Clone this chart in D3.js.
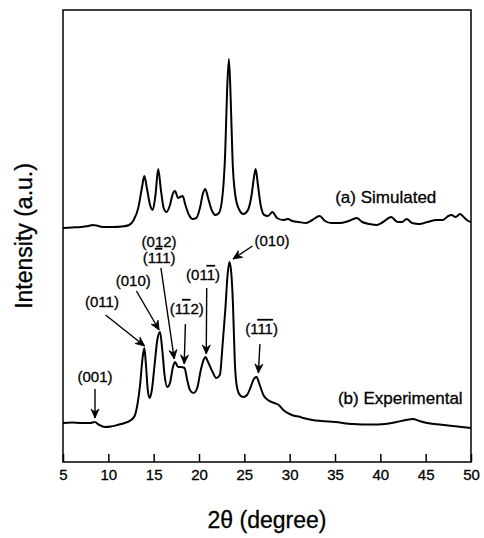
<!DOCTYPE html>
<html>
<head>
<meta charset="utf-8">
<script src="https://cdn.jsdelivr.net/npm/d3@7"></script>
<style>
  html, body { margin: 0; padding: 0; background: #fff; }
  svg { display: block; }
  text { font-family: "Liberation Sans", Arial, sans-serif; fill: #000; stroke: #000; stroke-width: 0.3px; }
</style>
</head>
<body>
<svg id="chart" width="484" height="538"></svg>
<script>
// ---- data (2θ in degrees, intensity in arbitrary units) ----
const simTheta = [5.0,6.0,7.0,7.8,8.3,8.9,9.5,10.5,11.5,12.3,12.8,13.3,13.7,13.97,14.25,14.6,14.9,15.2,15.5,15.8,16.1,16.4,16.8,17.1,17.35,17.7,17.9,18.2,18.5,18.9,19.3,19.7,20.1,20.45,20.7,21.0,21.4,21.8,22.2,22.6,22.9,23.1,23.3,23.5,23.7,24.0,24.4,24.9,25.4,25.8,26.05,26.25,26.5,26.8,27.2,27.6,28.1,28.6,29.3,29.8,30.3,31.0,31.8,32.5,33.3,33.9,34.6,35.5,36.5,37.4,38.0,38.8,39.6,40.3,41.2,41.9,42.4,42.9,43.5,44.3,45.2,46.2,46.9,47.5,47.85,48.3,48.8,49.3,49.7,50.0];
const simIntensity = [234,234.5,235,236,237,236,235,235,235.5,237,242,254,274,286,274,257,252,267,293,272,254,250,257,268,271,264,265,266,257,247,243,244,254,269,273,264,252,247,249,267,312,372,403,362,302,267,253,248,252,267,284,293,277,257,247,246,250,244,242,243,241,240,239,242,246,241,239,239,241,244,240,238,237,240,245,240,240,243,239,238,240,242,242,246,247,245,248,244,241,240];

const expTheta = [5.0,6.0,7.0,8.0,8.5,9.0,9.6,10.3,11.0,11.8,12.5,12.9,13.2,13.5,13.75,13.97,14.15,14.35,14.55,14.8,15.1,15.4,15.7,15.95,16.2,16.5,16.8,17.1,17.35,17.7,18.0,18.4,18.7,19.0,19.4,19.8,20.2,20.5,20.7,21.0,21.5,21.9,22.3,22.6,22.9,23.15,23.35,23.55,23.75,23.95,24.15,24.5,24.9,25.3,25.7,26.05,26.35,26.7,27.1,27.6,28.3,28.8,29.3,30.0,30.6,31.0,31.5,32.5,33.5,35.0,37.0,39.0,40.5,41.8,42.8,43.6,44.3,45.5,47.0,48.5,50.0];
const expIntensity = [39,39.5,39,39,40,37,35,35.5,37,39,42,46,57,77,102,114,97,72,64,72,97,122,130,112,87,75,79,94,100,95,95,94,82,72,69,74,92,102,105,100,90,84,87,117,152,187,200,190,157,100,77,67,65,67,75,83,85,77,67,62,59,57,52,48,46,45.5,44,42,41,40,38,37.5,38,40,42,43,41,38.5,37,35.5,34];

const xTicks = [5,10,15,20,25,30,35,40,45,50];
const xTickLabels = ["5","10","15","20","25","30","35","40","45","50"];

const seriesLabels = [
  {text: "(a) Simulated", theta: 40.6, value: 259},
  {text: "(b) Experimental", theta: 42.2, value: 58}
];

// peak annotations: label lines (parts with overbar flag), text anchor point, arrow from/to in data units
const peakLabels = [
  {lines: [[["(001)",0]]], tx: 8.53, ty: 80, from: [8.53, 73], to: [8.53, 44]},
  {lines: [[["(011)",0]]], tx: 9.3, ty: 155, from: [9.7, 147], to: [14.0, 116]},
  {lines: [[["(010)",0]]], tx: 12.75, ty: 176, from: [13.1, 171], to: [15.6, 132]},
  {lines: [[["(012)",0]], [["(1",0],["1",1],["1)",0]]], tx: 15.6, ty: 215, lineGap: 16, from: [15.8, 194], to: [17.27, 103]},
  {lines: [[["(1",0],["1",1],["2)",0]]], tx: 18.65, ty: 148, from: [18.5, 138], to: [18.37, 98]},
  {lines: [[["(01",0],["1",1],[")",0]]], tx: 20.45, ty: 182, from: [20.85, 174], to: [20.8, 108]},
  {lines: [[["(010)",0]]], tx: 28.05, ty: 216, from: [25.9, 216], to: [23.75, 203]},
  {lines: [[["(1",0],["1",1],["1",1],[")",0]]], tx: 26.9, ty: 128, from: [26.72, 118], to: [26.55, 89]}
];

// ---- layout ----
const svg = d3.select("#chart");
const mLeft = 63, mRight = 471, mTop = 10, mBottom = 462;

const x = d3.scaleLinear().domain([5, 50]).range([mLeft, mRight]);
const y = d3.scaleLinear().domain([0, 452]).range([mBottom, mTop]);

// frame
svg.append("rect")
  .attr("x", mLeft).attr("y", mTop)
  .attr("width", mRight - mLeft).attr("height", mBottom - mTop)
  .attr("fill", "none").attr("stroke", "#000").attr("stroke-width", 1.5);

// x axis with inward ticks
const xAxis = d3.axisBottom(x)
  .tickValues(xTicks)
  .tickSizeInner(-8).tickSizeOuter(0)
  .tickPadding(0)
  .tickFormat((d, i) => xTickLabels[i]);
const gx = svg.append("g").attr("transform", `translate(0,${mBottom})`).call(xAxis);
gx.select(".domain").remove();
gx.selectAll(".tick line").attr("stroke", "#000").attr("stroke-width", 1.5);
gx.selectAll(".tick text")
  .attr("y", 18).attr("dy", 0)
  .style("font-size", "15px")
  .style("font-family", "'Liberation Sans', Arial, sans-serif")
  .attr("fill", "#000");

// curves
const line = d3.line()
  .x(d => x(d[0])).y(d => y(d[1]))
  .curve(d3.curveMonotoneX);

const simData = simTheta.map((t, i) => [t, simIntensity[i]]);
const expData = expTheta.map((t, i) => [t, expIntensity[i]]);

svg.append("path").datum(simData)
  .attr("d", line).attr("fill", "none")
  .attr("stroke", "#000").attr("stroke-width", 2).attr("stroke-linejoin", "round");
svg.append("path").datum(expData)
  .attr("d", line).attr("fill", "none")
  .attr("stroke", "#000").attr("stroke-width", 2).attr("stroke-linejoin", "round");

// series labels
svg.selectAll(".slabel").data(seriesLabels).enter().append("text")
  .attr("class", "slabel")
  .attr("x", d => x(d.theta)).attr("y", d => y(d.value))
  .attr("text-anchor", "middle")
  .style("font-size", "17px")
  .text(d => d.text);

// arrow marker
const defs = svg.append("defs");
defs.append("marker")
  .attr("id", "arrow")
  .attr("viewBox", "-10 -6 12 12")
  .attr("refX", 0).attr("refY", 0)
  .attr("markerWidth", 12).attr("markerHeight", 12)
  .attr("markerUnits", "userSpaceOnUse")
  .attr("orient", "auto")
  .append("path")
  .attr("d", "M-9,-4 L0,0 L-9,4 L-6,0 Z")
  .attr("fill", "#000").attr("stroke", "#000").attr("stroke-width", 0.8);

// peak annotations
peakLabels.forEach(p => {
  const gap = p.lineGap || 16;
  p.lines.forEach((parts, li) => {
    const t = svg.append("text")
      .attr("x", x(p.tx)).attr("y", y(p.ty) + li * gap)
      .attr("text-anchor", "middle")
      .style("font-size", "15px");
    parts.forEach(([s, bar]) => {
      const ts = t.append("tspan").text(s);
      if (bar) ts.style("text-decoration", "overline");
    });
  });
  svg.append("line")
    .attr("x1", x(p.from[0])).attr("y1", y(p.from[1]))
    .attr("x2", x(p.to[0])).attr("y2", y(p.to[1]))
    .attr("stroke", "#000").attr("stroke-width", 1.4)
    .attr("marker-end", "url(#arrow)");
});

// axis titles
svg.append("text")
  .attr("x", (mLeft + mRight) / 2).attr("y", 528)
  .attr("text-anchor", "middle")
  .style("font-size", "23px")
  .text("2θ (degree)");

svg.append("text")
  .attr("transform", `translate(32,${(mTop + mBottom) / 2}) rotate(-90)`)
  .attr("text-anchor", "middle")
  .style("font-size", "23px")
  .text("Intensity (a.u.)");
</script>
</body>
</html>
